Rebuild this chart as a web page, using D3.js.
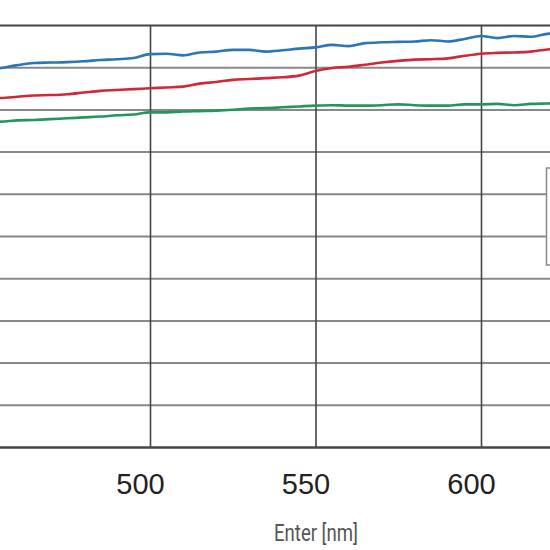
<!DOCTYPE html>
<html>
<head>
<meta charset="utf-8">
<script src="https://cdn.jsdelivr.net/npm/d3@7"></script>
<style>
  body { margin: 0; background: #fff; }
  svg { display: block; }
</style>
</head>
<body>
<script>
// wavelength samples (nm) and transmittance per channel (%)
var wavelengths = [450, 455, 460, 465, 470, 475, 480, 485, 490, 495,
                   500, 505, 510, 515, 520, 525, 530, 535, 540, 545,
                   550, 555, 560, 565, 570, 575, 580, 585, 590, 595,
                   600, 605, 610, 615, 620, 625];
var blueValues = [89.3, 89.8, 90.5, 91.0, 91.1, 91.2, 91.4, 91.7, 91.9, 92.2,
                  93.1, 93.2, 92.8, 93.5, 93.7, 94.1, 94.1, 93.7, 94.0, 94.4,
                  94.7, 95.3, 95.0, 95.7, 95.9, 96.0, 96.1, 96.4, 96.1, 96.7,
                  97.4, 96.9, 97.4, 97.2, 97.9, 98.1];
var redValues = [82.5, 82.7, 83.0, 83.3, 83.4, 83.6, 84.0, 84.4, 84.6, 84.8,
                 85.0, 85.2, 85.4, 86.1, 86.5, 87.0, 87.2, 87.4, 87.6, 88.0,
                 89.1, 89.8, 90.1, 90.6, 91.1, 91.5, 91.8, 91.9, 92.1, 92.7,
                 93.2, 93.4, 93.5, 93.7, 94.2, 94.4];
var greenValues = [77.0, 77.1, 77.4, 77.5, 77.7, 77.9, 78.1, 78.3, 78.6, 78.8,
                   79.3, 79.3, 79.5, 79.6, 79.7, 79.9, 80.2, 80.3, 80.5, 80.7,
                   80.9, 81.0, 80.9, 80.9, 81.0, 81.2, 81.0, 80.9, 80.9, 81.2,
                   81.2, 81.3, 81.0, 81.3, 81.4, 81.5];
var xTicks = [450, 500, 550, 600, 650];
var xLabels = ['', '500', '550', '600', ''];   // outer labels fall outside the crop
var yTicks = [0, 10, 20, 30, 40, 50, 60, 70, 80, 90, 100];

var svg = d3.select('body')
    .append('svg')
    .attr('width', 550)
    .attr('height', 550);

// scales (chart is cropped, so the left side falls off-screen)
var x = d3.scaleLinear().domain([500, 600]).range([150, 481]);
var y = d3.scaleLinear().domain([0, 100]).range([447, 25]);
var left = x(400), right = x(650);

svg.append('clipPath').attr('id', 'plot')
    .append('rect')
    .attr('x', left).attr('y', y(100))
    .attr('width', right - left).attr('height', y(0) - y(100));

// horizontal grid
var yGrid = svg.append('g')
    .attr('transform', 'translate(' + left + ',0)')
    .call(d3.axisLeft(y).tickValues(yTicks).tickSize(-(right - left)).tickFormat(''));
yGrid.select('.domain').remove();
yGrid.selectAll('line')
    .attr('stroke', function (d) { return (d === 0 || d === 100) ? '#444' : '#888'; })
    .attr('stroke-width', function (d) { return d === 0 ? 2.5 : 2; });

// vertical grid + tick labels
var xAxis = svg.append('g')
    .attr('transform', 'translate(0,' + y(0) + ')')
    .call(d3.axisBottom(x).tickValues(xTicks)
        .tickFormat(function (d, i) { return xLabels[i]; })
        .tickSize(-(y(0) - y(100))).tickPadding(26.5));
xAxis.select('.domain').remove();
xAxis.selectAll('line').attr('stroke', '#444').attr('stroke-width', 1.6);
xAxis.selectAll('text')
    .attr('dx', -10)
    .attr('fill', '#222')
    .style('font-family', 'Liberation Sans, Arial, sans-serif')
    .style('font-size', '29px');

// series lines
var series = [
    { values: blueValues, color: '#2b76b6' },
    { values: redValues, color: '#d0283a' },
    { values: greenValues, color: '#24965a' }
];
var line = d3.line()
    .x(function (d, i) { return x(wavelengths[i]); })
    .y(function (d) { return y(d); })
    .curve(d3.curveMonotoneX);

svg.append('g').attr('clip-path', 'url(#plot)')
    .selectAll('path')
    .data(series)
    .enter()
    .append('path')
    .attr('d', function (s) { return line(s.values); })
    .attr('fill', 'none')
    .attr('stroke', function (s) { return s.color; })
    .attr('stroke-width', 2.6)
    .attr('stroke-linejoin', 'round');

// legend box (cut off at the right edge)
svg.append('rect')
    .attr('x', 546.5).attr('y', 168)
    .attr('width', 60).attr('height', 97)
    .attr('fill', '#fff')
    .attr('stroke', '#888')
    .attr('stroke-width', 1.5);

// axis title
svg.append('text')
    .attr('x', 274).attr('y', 541)
    .attr('textLength', 84)
    .attr('lengthAdjust', 'spacingAndGlyphs')
    .attr('fill', '#555')
    .style('font-family', 'Roboto, sans-serif')
    .style('font-size', '24px')
    .text('Enter [nm]');
</script>
</body>
</html>
